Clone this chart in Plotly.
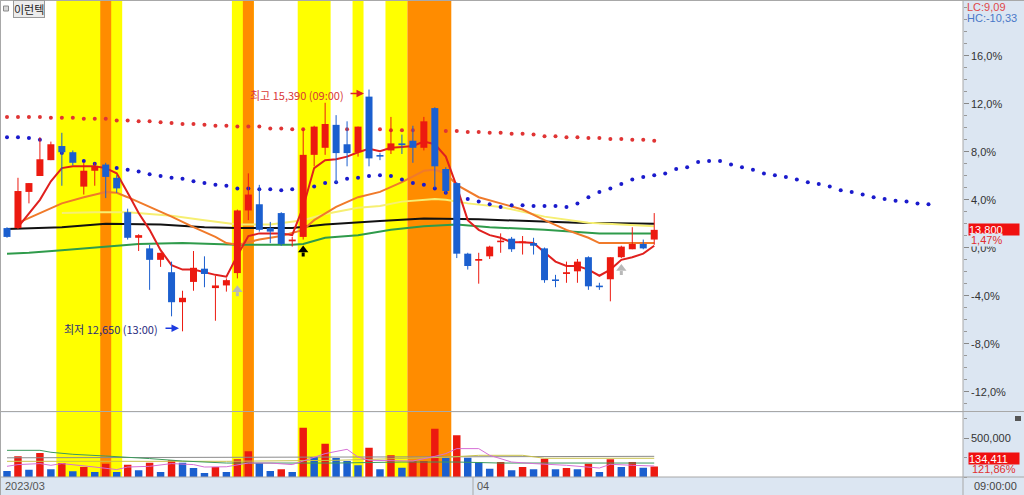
import plotly.graph_objects as go

# ---------------- data ----------------
BASE_PRICE = 13600          # price at 0.0 % on the right axis
LAST_PCT = "1,47%"
LAST_VOL_PCT = "121,86%"

idx = list(range(60))
opens = [13820, 13820, 14230, 14410, 14590, 14750, 14680, 14290, 14470, 14540,
         14390, 14000, 13710, 13590, 13460, 13320, 12980, 13210, 13360, 13140,
         13170, 13310, 14020, 14090, 13820, 13990, 13670, 13720, 14650, 14730,
         14990, 14770, 14680, 15310, 14640, 14700, 14780, 14810, 14730, 15180,
         14490, 14330, 13530, 13450, 13500, 13660, 13700, 13650, 13650, 13590,
         13230, 13300, 13330, 13490, 13160, 13240, 13490, 13580, 13640, 13690]
highs = [13830, 14390, 14330, 14850, 14800, 14900, 14700, 14560, 14560, 14560,
         14420, 14040, 13750, 13630, 13540, 13440, 13110, 13560, 13500, 13280,
         13250, 14030, 14440, 14310, 13890, 14000, 13720, 14950, 14980, 15240,
         15100, 15030, 14970, 15390, 14670, 15080, 14880, 14980, 15080, 15190,
         14510, 14340, 13540, 13540, 13620, 13760, 13720, 13730, 13710, 13600,
         13290, 13440, 13470, 13500, 13200, 13490, 13620, 13830, 13690, 13990]
lows = [13710, 13810, 14100, 14410, 14590, 14300, 14530, 14200, 14300, 14160,
        14220, 13690, 13560, 13120, 13380, 12820, 12650, 13110, 13150, 12770,
        13100, 13250, 13910, 13780, 13650, 13620, 13610, 13690, 14520, 14650,
        14330, 14520, 14630, 14520, 14590, 14660, 14660, 14560, 14700, 14270,
        14210, 13480, 13350, 13190, 13470, 13540, 13550, 13520, 13520, 13200,
        13150, 13200, 13200, 13120, 13120, 12990, 13480, 13580, 13580, 13630]
closes = [13720, 14240, 14330, 14600, 14770, 14680, 14560, 14470, 14520, 14400,
          14270, 13710, 13740, 13460, 13540, 12980, 13030, 13370, 13300, 13170,
          13230, 14020, 14200, 13800, 13780, 13640, 13690, 14650, 14970, 15000,
          14670, 14670, 14970, 14610, 14630, 14780, 14760, 14730, 15030, 14520,
          14240, 13530, 13390, 13470, 13610, 13670, 13580, 13660, 13620, 13230,
          13220, 13320, 13440, 13160, 13150, 13490, 13610, 13640, 13590, 13800]
volumes = [77000, 265000, 94000, 308000, 99000, 179000, 73000, 128000, 64000, 171000,
           64000, 158000, 86000, 183000, 64000, 214000, 183000, 115000, 51000, 128000,
           64000, 227000, 329000, 179000, 77000, 99000, 64000, 632000, 256000, 427000,
           244000, 205000, 150000, 376000, 99000, 278000, 119000, 201000, 205000, 619000,
           244000, 535000, 247000, 192000, 106000, 192000, 86000, 128000, 99000, 235000,
           99000, 115000, 99000, 171000, 64000, 227000, 128000, 192000, 119000, 134411]

# moving averages (index, price)
ma_red_x = list(range(1, 60))
ma_red_y = [13830, 13980, 14140, 14350, 14500, 14520, 14520, 14520, 14500, 14440,
            14220, 13990, 13800, 13570, 13400, 13350, 13350, 13320, 13290, 13270,
            13510, 13730, 13760, 13760, 13760, 13740, 14060, 14500, 14590, 14600,
            14630, 14680, 14720, 14690, 14730, 14740, 14750, 14800, 14770, 14630,
            14290, 13910, 13800, 13740, 13710, 13660, 13660, 13650, 13540, 13440,
            13390, 13390, 13350, 13280, 13350, 13460, 13490, 13530, 13620]
ma_orange_x = [1, 3, 5, 7, 9, 10, 11, 13, 15, 17, 19, 20, 21, 22, 23, 25, 27, 28, 30, 32,
               34, 36, 38, 39, 40, 41, 43, 45, 47, 49, 51, 53, 54, 56, 59]
ma_orange_y = [13880, 13990, 14100, 14170, 14230, 14220, 14170, 14060, 13950, 13830,
               13720, 13650, 13630, 13660, 13690, 13730, 13800, 13910, 14060, 14170,
               14230, 14340, 14470, 14480, 14440, 14310, 14170, 14100, 14030, 13910,
               13800, 13710, 13650, 13650, 13650]
ma_yellow_x = [5, 8, 11, 15, 18, 21, 24, 27, 29, 32, 34, 36, 39, 40, 42, 45, 49, 53, 56, 59]
ma_yellow_y = [13990, 14000, 14000, 13960, 13910, 13860, 13860, 13910, 13980, 14050,
               14070, 14120, 14150, 14140, 14100, 14060, 13950, 13880, 13860, 13840]
ma_black_x = [0, 5, 9, 14, 18, 21, 26, 29, 34, 38, 43, 47, 52, 59]
ma_black_y = [13810, 13830, 13870, 13860, 13830, 13820, 13820, 13860, 13900, 13930,
              13920, 13900, 13880, 13870]
ma_green_x = [0, 2, 5, 9, 12, 16, 21, 26, 27, 29, 32, 35, 38, 41, 44, 49, 54, 59]
ma_green_y = [13530, 13540, 13570, 13610, 13640, 13650, 13630, 13630, 13640, 13710,
              13740, 13800, 13840, 13860, 13830, 13800, 13760, 13760]

# dotted lines
dot_red_y = [15080, 15080, 15080, 15080, 15070, 15070, 15070, 15060, 15060, 15060,
             15040, 15040, 15030, 15030, 15020, 15010, 15000, 15000, 14990, 14980,
             14980, 14970, 14970, 14970, 14950, 14950, 14940, 14940, 14940, 14940,
             14940, 14940, 14940, 14940, 14940, 14930, 14930, 14930, 14930, 14930,
             14920, 14920, 14910, 14910, 14900, 14900, 14890, 14890, 14880, 14860,
             14860, 14850, 14850, 14840, 14840, 14830, 14830, 14820, 14820, 14810]
dot_blue_y = [14850, 14850, 14840, 14820, 14740, 14670, 14610, 14580, 14550, 14510,
              14500, 14480, 14460, 14430, 14410, 14390, 14380, 14350, 14330, 14310,
              14300, 14270, 14270, 14260, 14260, 14250, 14260, 14270, 14290, 14330,
              14340, 14380, 14390, 14410, 14420, 14410, 14370, 14330, 14310, 14270,
              14220, 14170, 14150, 14120, 14090, 14060, 14080, 14080, 14070, 14070,
              14070, 14060, 14100, 14170, 14230, 14270, 14320, 14370, 14400, 14420,
              14440, 14490, 14510, 14570, 14580, 14580, 14540, 14510, 14480, 14440,
              14420, 14400, 14370, 14340, 14320, 14290, 14250, 14230, 14200, 14170,
              14150, 14130, 14120, 14100, 14090]

# volume moving averages
vma_gray_x = [0, 30, 59]
vma_gray_y = [246000, 252000, 265000]
vma_green_x = [0, 3, 4, 6, 9, 11, 13, 16, 20, 30, 36, 41, 45, 59]
vma_green_y = [342000, 342000, 317000, 291000, 269000, 256000, 236000, 205000, 179000,
               179000, 192000, 192000, 179000, 179000]
vma_olive_x = [0, 20, 30, 40, 43, 47, 49, 59]
vma_olive_y = [201000, 201000, 214000, 253000, 278000, 278000, 240000, 240000]
vma_pink_x = [0, 1, 3, 4, 5, 7, 8, 10, 11, 13, 15, 17, 18, 20, 22, 24, 26, 27, 29, 31,
              32, 33, 35, 37, 39, 40, 41, 43, 44, 46, 48, 51, 54, 55, 57, 59]
vma_pink_y = [137000, 159000, 172000, 150000, 172000, 137000, 128000, 95000, 128000,
              137000, 172000, 159000, 128000, 131000, 179000, 179000, 159000, 205000,
              300000, 355000, 256000, 214000, 205000, 205000, 265000, 300000, 364000,
              364000, 278000, 192000, 172000, 150000, 115000, 163000, 150000, 141000]

# highlighted periods (first candle, last candle, colour)
bands = [(5, 10, "#ffff00"), (9, 9, "#ff8c00"),
         (21, 22, "#ffff00"), (22, 22, "#ff8c00"),
         (27, 29, "#ffff00"), (32, 32, "#ffff00"),
         (35, 36, "#ffff00"), (37, 40, "#ff8c00")]

# signal arrows under candles
sig_idx = [21, 27, 56]
sig_tip = [13150, 13600, 13390]
sig_col = ["#b8b8b8", "#000000", "#b8b8b8"]

pct_ticks = [-12, -8, -4, 0, 4, 8, 12, 16]
vol_ticks = [500000]

# ---------------- styling ----------------
RED = "#ec1a10"
BLUE = "#1b5fcf"
PANEL = "#dce6f2"
NUM_FONT = "Liberation Sans"
KR_FONT = "Noto Sans CJK KR"
PX_PRICE = BASE_PRICE / 1200.0   # price per pixel (12 px per 1 %)

L, R, T, B = 1, 61, 1, 18
W, H = 1024, 495
PW, PH = W - L - R, H - T - B


def X(px):
    return (px - L) / PW


def Y(py):
    return (H - B - py) / PH


def idx_of(px):
    return (px - 7) / 10.97


fig = go.Figure()

# moving averages
for xs, ys, col, w in [(ma_green_x, ma_green_y, "#2f9b4b", 2),
                       (ma_black_x, ma_black_y, "#111111", 2),
                       (ma_yellow_x, ma_yellow_y, "#f6ef72", 2),
                       (ma_orange_x, ma_orange_y, "#f07a2a", 2),
                       (ma_red_x, ma_red_y, "#e0201e", 2)]:
    fig.add_trace(go.Scatter(x=xs, y=ys, mode="lines", line=dict(color=col, width=w),
                             hoverinfo="skip"))

fig.add_trace(go.Scatter(x=idx, y=dot_red_y, mode="markers",
                         marker=dict(color="#e03434", size=4), hoverinfo="skip"))
fig.add_trace(go.Scatter(x=list(range(len(dot_blue_y))), y=dot_blue_y, mode="markers",
                         marker=dict(color="#1a1acc", size=4), hoverinfo="skip"))


def segs(xs, a, b):
    sx, sy = [], []
    for x, y0, y1 in zip(xs, a, b):
        sx += [x, x, None]
        sy += [y0, y1, None]
    return sx, sy


up = [i for i in idx if closes[i] > opens[i]]
dn = [i for i in idx if closes[i] <= opens[i]]
MINB = 18
for grp, col in [(up, RED), (dn, BLUE)]:
    wx, wy = segs(grp, [lows[i] for i in grp], [highs[i] for i in grp])
    fig.add_trace(go.Scatter(x=wx, y=wy, mode="lines", line=dict(color=col, width=1),
                             hoverinfo="skip"))
    bot = [min(opens[i], closes[i]) for i in grp]
    top = [max(max(opens[i], closes[i]), min(opens[i], closes[i]) + MINB) for i in grp]
    bx, by = segs(grp, bot, top)
    fig.add_trace(go.Scatter(x=bx, y=by, mode="lines", line=dict(color=col, width=7),
                             hoverinfo="skip"))

# signal arrows
for i, tip, col in zip(sig_idx, sig_tip, sig_col):
    fig.add_trace(go.Scatter(x=[i, i], y=[tip - 5 * PX_PRICE, tip - 9 * PX_PRICE],
                             mode="lines", line=dict(color=col, width=3), hoverinfo="skip"))
    fig.add_trace(go.Scatter(x=[i], y=[tip - 2.5 * PX_PRICE], mode="markers",
                             marker=dict(symbol="triangle-up", size=9, color=col),
                             hoverinfo="skip"))

# volume
vcol = [BLUE] + [RED if volumes[i] > volumes[i - 1] else BLUE for i in range(1, len(volumes))]
fig.add_trace(go.Bar(x=idx, y=volumes, width=0.68, marker=dict(color=vcol, line=dict(width=0)),
                     yaxis="y2", hoverinfo="skip"))
for xs, ys, col in [(vma_gray_x, vma_gray_y, "#8c8c8c"),
                    (vma_olive_x, vma_olive_y, "#c9c24a"),
                    (vma_green_x, vma_green_y, "#3c9a5c"),
                    (vma_pink_x, vma_pink_y, "#d66fd6")]:
    fig.add_trace(go.Scatter(x=xs, y=ys, mode="lines", line=dict(color=col, width=1),
                             yaxis="y2", hoverinfo="skip"))

shapes = []
for s, e, col in bands:
    shapes.append(dict(type="rect", xref="x", yref="paper", x0=s - 0.5, x1=e + 0.5,
                       y0=0, y1=1, fillcolor=col, line=dict(width=0), layer="below"))
LINE = dict(color="#a8a8a8", width=1)
shapes += [
    dict(type="line", xref="paper", yref="paper", x0=X(0), x1=X(W), y0=Y(411.5), y1=Y(411.5), line=LINE),
    dict(type="line", xref="paper", yref="paper", x0=X(0), x1=X(W), y0=Y(477), y1=Y(477), line=LINE),
    dict(type="line", xref="paper", yref="paper", x0=X(963), x1=X(963), y0=Y(H), y1=Y(0), line=LINE),
    dict(type="line", xref="paper", yref="paper", x0=X(473), x1=X(473), y0=Y(H), y1=Y(477), line=LINE),
    dict(type="line", xref="paper", yref="paper", x0=X(0.5), x1=X(0.5), y0=Y(H), y1=Y(0), line=LINE),
    dict(type="line", xref="paper", yref="paper", x0=X(0), x1=X(W), y0=Y(0.5), y1=Y(0.5), line=LINE),
    dict(type="rect", xref="paper", yref="paper", x0=X(3.5), x1=X(8.5), y0=Y(11), y1=Y(6),
         fillcolor="#d8d8d8", line=dict(color="#8a8a8a", width=1)),
    dict(type="rect", xref="paper", yref="paper", x0=X(1015), x1=X(1021), y0=Y(421), y1=Y(416),
         fillcolor="#555555", line=dict(width=0)),
]

last_close = closes[-1]
TICKFONT = dict(family=NUM_FONT, size=11, color="#333")
ann = []
# right axis tick labels (left-aligned next to the tick marks)
for p in pct_ticks:
    ann.append(dict(x=X(969), y=BASE_PRICE * (1 + p / 100), xref="paper", yref="y",
                    text=f"{p:.1f}%".replace(".", ","), showarrow=False,
                    xanchor="left", yanchor="middle", font=TICKFONT))
for v in vol_ticks:
    ann.append(dict(x=X(969), y=v, xref="paper", yref="y2", text=f"{v:,}", showarrow=False,
                    xanchor="left", yanchor="middle", font=TICKFONT))

ann += [
    dict(x=X(13), y=Y(9), xref="paper", yref="paper", text="이런텍", showarrow=False,
         xanchor="left", yanchor="middle", bgcolor="#ececec", bordercolor="#9a9a9a",
         borderwidth=1, borderpad=0, font=dict(family=KR_FONT, size=11, color="#222")),
    dict(x=idx_of(346), y=max(highs) - 5 * PX_PRICE, xref="x", yref="y",
         text="최고 15,390 (09:00)", showarrow=False, xanchor="right", yanchor="middle",
         font=dict(family=KR_FONT, size=11, color="#d83838")),
    dict(x=idx_of(364), y=max(highs) - 4 * PX_PRICE, xref="x", yref="y", ax=-15, ay=0, text="",
         showarrow=True, arrowhead=2, arrowsize=1, arrowwidth=1.5, arrowcolor="#e02020"),
    dict(x=idx_of(160), y=min(lows) + 2 * PX_PRICE, xref="x", yref="y",
         text="최저 12,650 (13:00)", showarrow=False, xanchor="right", yanchor="middle",
         font=dict(family=KR_FONT, size=11, color="#2a2a7e")),
    dict(x=idx_of(179), y=min(lows) + 3 * PX_PRICE, xref="x", yref="y", ax=-15, ay=0, text="",
         showarrow=True, arrowhead=2, arrowsize=1, arrowwidth=1.5, arrowcolor="#1c3ae0"),
    dict(x=X(965), y=Y(7), xref="paper", yref="paper", text="LC:9,09", showarrow=False,
         xanchor="left", yanchor="middle", font=dict(family=NUM_FONT, size=11, color="#e04848")),
    dict(x=X(965), y=Y(18), xref="paper", yref="paper", text="HC:-10,33", showarrow=False,
         xanchor="left", yanchor="middle", font=dict(family=NUM_FONT, size=11, color="#4a78c8")),
    dict(x=X(968), y=last_close, xref="paper", yref="y", text=f"{last_close:,}", showarrow=False,
         xanchor="left", yanchor="middle", align="left", width=50, height=11, borderpad=0,
         bgcolor="#f01010", font=dict(family=NUM_FONT, size=11, color="white")),
    dict(x=X(970), y=Y(239.5), xref="paper", yref="paper", text=LAST_PCT, showarrow=False,
         xanchor="left", yanchor="middle", bgcolor=PANEL, borderpad=0,
         font=dict(family=NUM_FONT, size=11, color="#e03030")),
    dict(x=X(968), y=Y(458), xref="paper", yref="paper", text=f"{volumes[-1]:,}", showarrow=False,
         xanchor="left", yanchor="middle", align="left", width=50, height=11, borderpad=0,
         bgcolor="#f01010", font=dict(family=NUM_FONT, size=11, color="white")),
    dict(x=X(970), y=Y(469), xref="paper", yref="paper", text=LAST_VOL_PCT, showarrow=False,
         xanchor="left", yanchor="middle", font=dict(family=NUM_FONT, size=11, color="#e03030")),
    dict(x=X(972), y=Y(486), xref="paper", yref="paper", text="09:00:00", showarrow=False,
         xanchor="left", yanchor="middle", font=dict(family=NUM_FONT, size=11, color="#444")),
    dict(x=X(3), y=Y(486), xref="paper", yref="paper", text="2023/03", showarrow=False,
         xanchor="left", yanchor="middle", font=dict(family=NUM_FONT, size=11, color="#555")),
    dict(x=X(475), y=Y(486), xref="paper", yref="paper", text="04", showarrow=False,
         xanchor="left", yanchor="middle", font=dict(family=NUM_FONT, size=11, color="#555")),
]

price_top = BASE_PRICE + (247.5 - 1) * PX_PRICE
price_bot = BASE_PRICE - (411 - 247.5) * PX_PRICE
vol_per_px = 500000 / 39.0

fig.update_layout(
    width=W, height=H,
    margin=dict(l=L, r=R, t=T, b=B, pad=0),
    paper_bgcolor=PANEL, plot_bgcolor="white",
    showlegend=False, barmode="overlay", hovermode=False,
    xaxis=dict(domain=[0, 1], range=[idx_of(L), idx_of(W - R)], showticklabels=False,
               showgrid=False, zeroline=False, ticks="", anchor="y2", automargin=False,
               fixedrange=True),
    yaxis=dict(domain=[Y(411), 1], range=[price_bot, price_top], side="right",
               tickmode="array", tickvals=[BASE_PRICE * (1 + p / 100) for p in pct_ticks],
               showticklabels=False,
               ticks="outside", ticklen=5, tickcolor="#888", showgrid=False, zeroline=False,
               automargin=False,
               minor=dict(tick0=BASE_PRICE, dtick=BASE_PRICE / 100, ticks="outside",
                          ticklen=3, tickcolor="#999"),
               fixedrange=True),
    yaxis2=dict(domain=[0, Y(412.5)], range=[0, (477 - 412.5) * vol_per_px], side="right",
                tickmode="array", tickvals=vol_ticks, showticklabels=False,
                ticks="outside", ticklen=5, tickcolor="#888", showgrid=False, zeroline=False,
                automargin=False,
                minor=dict(tick0=0, dtick=250000, ticks="outside", ticklen=3, tickcolor="#999"),
                fixedrange=True),
    shapes=shapes,
    annotations=ann,
)

fig.write_html("out.html", config={"displayModeBar": False},
               post_script="document.body.style.margin='0';")
